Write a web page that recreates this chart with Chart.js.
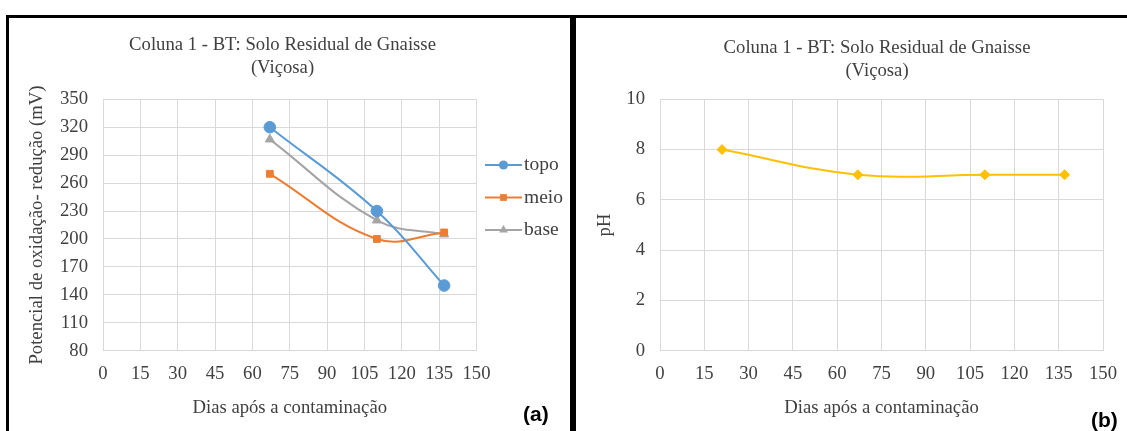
<!DOCTYPE html>
<html lang="pt">
<head>
<meta charset="utf-8">
<title>Coluna 1 - BT: Solo Residual de Gnaisse (Viçosa)</title>
<script src="https://cdn.jsdelivr.net/npm/chart.js@4.4.1/dist/chart.umd.min.js"></script>
<style>
    html, body { margin: 0; padding: 0; background: #fff; overflow: hidden; }
    body { width: 1127px; height: 431px; position: relative; }
    canvas { position: absolute; }
    .frame { position: absolute; background: #000; z-index: 2; }
    .tag { position: absolute; z-index: 3; line-height: 1; color: #000;
           font: bold 21px "Liberation Sans", Arial, sans-serif; }
</style>
</head>
<body>
<canvas id="redoxChart" width="565" height="413" style="left:0;top:18px"></canvas>
<canvas id="phChart" width="602" height="413" style="left:576px;top:18px"></canvas>

<div class="frame" style="left:6px;top:15px;width:1121px;height:3px"></div>
<div class="frame" style="left:6px;top:15px;width:3px;height:416px"></div>
<div class="frame" style="left:570px;top:15px;width:6px;height:416px"></div>
<div class="tag" style="left:523px;top:402px">(a)</div>
<div class="tag" style="left:1091px;top:408px">(b)</div>

<script>
// ---- data ----
const dias   = [67, 110, 137];
const topo   = [320, 230, 150];
const meio   = [270, 200, 207];
const base   = [307, 220, 205];

const diasPH = [21, 67, 110, 137];
const ph     = [8, 7, 7, 7];

const diasTicks  = [0, 15, 30, 45, 60, 75, 90, 105, 120, 135, 150];
const redoxTicks = [80, 110, 140, 170, 200, 230, 260, 290, 320, 350];
const phTicks    = [0, 2, 4, 6, 8, 10];

const titulo = ["Coluna 1 - BT: Solo Residual de Gnaisse", "(Viçosa)"];

// ---- look ----
const SERIF = "'Liberation Serif', 'Times New Roman', serif";
const TXT   = "#404040";
const GRID  = "#d9d9d9";
const FS    = 18.7;

function pts(xs, ys) {
    return xs.map((x, i) => ({ x: x, y: ys[i] }));
}

function serie(label, xs, ys, color, style, r) {
    return {
        label: label,
        data: pts(xs, ys),
        borderColor: color,
        backgroundColor: color,
        borderWidth: 2,
        tension: 0.4,
        pointStyle: style,
        pointRadius: r,
        pointBackgroundColor: color,
        pointBorderColor: color,
        pointBorderWidth: 1
    };
}

// Excel-like legend: short line with the marker on it
const lineLegend = {
    id: "lineLegend",
    afterDraw(chart, args, opts) {
        const ctx = chart.ctx;
        ctx.save();
        chart.data.datasets.forEach((ds, i) => {
            const y = opts.y0 + i * opts.gap;
            ctx.strokeStyle = ds.borderColor;
            ctx.lineWidth = 2;
            ctx.beginPath();
            ctx.moveTo(opts.x, y);
            ctx.lineTo(opts.x + opts.len, y);
            ctx.stroke();

            ctx.fillStyle = ds.pointBackgroundColor;
            Chart.helpers.drawPoint(ctx, {
                pointStyle: ds.pointStyle,
                radius: opts.radius[i],
                rotation: 0,
                borderWidth: 0
            }, opts.x + opts.len / 2, y);

            ctx.fillStyle = TXT;
            ctx.font = opts.fontSize + "px " + SERIF;
            ctx.textBaseline = "middle";
            ctx.textAlign = "left";
            ctx.fillText(ds.label, opts.x + opts.len + 2, y);
        });
        ctx.restore();
    }
};

function xScale() {
    return {
        type: "linear",
        min: 0,
        max: 150,
        afterBuildTicks: s => { s.ticks = diasTicks.map(v => ({ value: v })); },
        grid: { color: GRID, drawTicks: false },
        border: { color: GRID },
        ticks: { color: TXT, font: { family: SERIF, size: FS }, padding: 12, maxRotation: 0, autoSkip: false },
        title: {
            display: true,
            text: "Dias após a contaminação",
            color: TXT,
            font: { family: SERIF, size: FS, lineHeight: 1.23 },
            padding: { top: 0, bottom: 11.5 }
        },
        afterFit: s => { s.height = 80.3; }
    };
}

function yScale(tickList, label, width, titlePad) {
    return {
        type: "linear",
        position: "left",
        min: tickList[0],
        max: tickList[tickList.length - 1],
        afterBuildTicks: s => { s.ticks = tickList.map(v => ({ value: v })); },
        grid: { color: GRID, drawTicks: false },
        border: { color: GRID },
        ticks: { color: TXT, font: { family: SERIF, size: FS }, padding: 15 },
        title: {
            display: true,
            text: label,
            color: TXT,
            font: { family: SERIF, size: FS, lineHeight: 1.23 },
            padding: { top: titlePad, bottom: 0 }
        },
        afterFit: s => { s.width = width; }
    };
}

// empty axis on the right, only to keep room (legend / centred title)
function padScale(width) {
    return {
        type: "linear",
        position: "right",
        display: true,
        grid: { display: false },
        border: { display: false },
        ticks: { display: false },
        afterFit: s => { s.width = width; }
    };
}

function titleOpts(top, bottom) {
    return {
        display: true,
        text: titulo,
        color: TXT,
        font: { family: SERIF, size: FS, weight: "normal", lineHeight: 1.23 },
        padding: { top: top, bottom: bottom }
    };
}

// ---- (a) redox potential ----
new Chart(document.getElementById("redoxChart"), {
    type: "line",
    data: {
        datasets: [
            serie("topo", dias, topo, "#5b9bd5", "circle", 5.8),
            serie("meio", dias, meio, "#ed7d31", "rect", 4.8),
            serie("base", dias, base, "#a5a5a5", "triangle", 5.2)
        ]
    },
    options: {
        responsive: false,
        animation: false,
        events: [],
        scales: {
            x: xScale(),
            y: yScale(redoxTicks, "Potencial de oxidação- redução (mV)", 103, 25.5),
            pad: padScale(88.5)
        },
        plugins: {
            legend: { display: false },
            tooltip: { enabled: false },
            title: titleOpts(15.5, 19.8),
            lineLegend: { x: 485, len: 37, y0: 147, gap: 32.5, radius: [4.6, 4.8, 5], fontSize: 19.5 }
        }
    },
    plugins: [lineLegend]
});

// ---- (b) pH ----
new Chart(document.getElementById("phChart"), {
    type: "line",
    data: {
        datasets: [
            serie("pH", diasPH, ph, "#ffc000", "rectRot", 5)
        ]
    },
    options: {
        responsive: false,
        animation: false,
        events: [],
        scales: {
            x: xScale(),
            y: yScale(phTicks, "pH", 84, 18),
            pad: padScale(75)
        },
        plugins: {
            legend: { display: false },
            tooltip: { enabled: false },
            title: titleOpts(18.5, 16.8)
        }
    }
});
</script>
</body>
</html>
